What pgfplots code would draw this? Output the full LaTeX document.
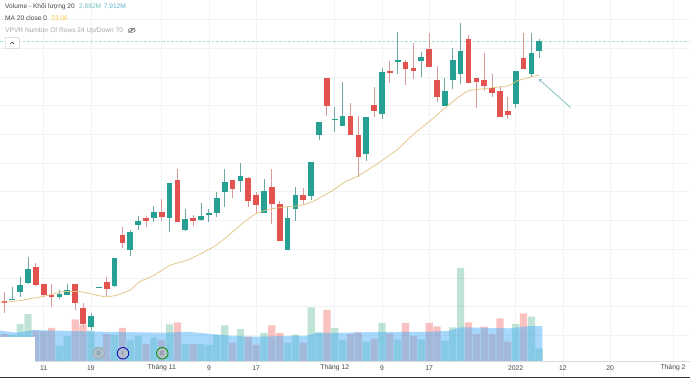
\documentclass[border=0pt]{standalone}
\usepackage{fontspec}
\setmainfont{Liberation Sans}
\usepackage{pgfplots}
\usepackage{pgfplotstable}
\pgfplotsset{compat=1.18}
\definecolor{gbody}{HTML}{26A092}
\definecolor{rbody}{HTML}{E2534F}
\definecolor{gwick}{HTML}{6FA8A4}
\definecolor{rwick}{HTML}{D89A98}
\definecolor{gvol}{HTML}{2AA574}
\definecolor{rvol}{HTML}{EF5350}
\definecolor{volma}{HTML}{4FB0F5}
\definecolor{gridc}{HTML}{F0F3F5}
\definecolor{txt}{HTML}{444444}
\definecolor{maline}{HTML}{E2C482}
\definecolor{arrowc}{HTML}{7DB8C0}
\definecolor{dashc}{HTML}{A8DAD2}
% k high bodytop bodybottom low volume(M)
\pgfplotstableread{
k h t b l v
1 15.69 15.27 15.24 15.24 5.88
2 16.04 15.76 15.52 15.32 8.36
3 16.72 16.31 15.81 15.79 10.62
7 15.58 15.44 15.34 15.26 3.46
8 15.79 15.58 15.40 15.39 5.65
11 14.79 14.68 14.28 14.18 6.85
12 15.69 15.69 15.66 15.66 3.16
14 16.69 16.68 15.72 15.67 5.88
16 17.67 17.59 16.98 16.77 4.75
17 18.16 17.98 17.83 17.67 5.65
19 18.51 18.29 18.08 17.94 5.36
21 19.30 19.30 18.08 17.59 8.29
23 18.39 18.04 17.67 17.63 3.84
25 18.60 18.16 18.03 17.98 3.84
26 18.40 18.25 18.19 17.96 3.62
27 18.98 18.79 18.27 18.13 5.88
28 19.79 19.34 18.98 18.48 8.07
30 20.01 19.55 19.39 18.98 7.23
33 19.45 19.04 18.27 18.27 6.33
36 18.48 18.09 16.98 16.98 4.14
37 19.18 18.89 18.39 17.98 5.94
39 20.04 20.03 18.86 18.71 12.14
40 21.44 21.44 20.99 20.80 6.49
42 21.94 21.55 21.50 21.09 7.46
43 22.82 21.64 21.29 21.29 4.75
46 21.60 21.60 20.31 20.08 4.36
48 23.30 23.16 21.70 21.53 8.59
50 24.56 23.60 23.51 23.10 4.81
53 23.86 23.71 23.56 22.99 4.90
56 22.98 22.50 21.99 21.99 4.59
57 24.02 23.59 22.90 22.57 7.62
58 24.87 23.91 23.10 22.75 21.02
65 23.21 23.21 22.06 21.91 8.36
67 24.52 23.83 23.10 22.99 10.01
68 24.31 24.25 23.91 23.65 2.88
}\greentable
\pgfplotstableread{
k h t b l v
0 15.52 15.20 15.12 14.78 6.10
4 16.52 16.39 15.75 15.72 6.85
5 15.79 15.78 15.40 15.33 6.71
6 15.78 15.40 15.34 15.00 7.46
9 15.78 15.78 15.14 14.88 9.42
10 15.14 14.94 14.39 14.29 8.14
13 16.04 15.87 15.61 15.37 6.10
15 17.78 17.49 17.23 17.03 7.46
18 18.17 18.09 17.97 17.78 3.84
20 18.75 18.30 18.13 17.98 4.75
22 19.79 19.40 17.94 17.94 8.75
24 18.19 18.09 17.97 17.82 3.84
29 19.41 19.40 19.09 18.77 4.14
31 19.50 19.49 18.68 18.48 5.49
32 18.98 18.89 18.54 18.25 3.62
34 19.79 19.18 18.58 17.88 8.07
35 18.69 18.58 17.29 17.29 6.33
38 19.14 18.89 18.71 18.58 4.14
41 22.97 22.97 21.99 21.65 11.53
44 22.10 21.64 20.99 20.99 6.10
45 21.64 20.99 20.20 19.53 6.49
47 22.66 22.01 21.80 21.60 5.04
49 23.57 23.22 23.15 22.80 6.26
51 23.59 23.51 23.29 22.71 8.59
52 24.17 23.30 23.20 22.92 5.65
54 24.52 23.97 23.35 23.35 8.59
55 23.39 22.91 22.30 22.12 7.84
59 24.46 24.31 22.80 22.80 8.75
60 22.98 22.98 22.84 21.91 6.10
61 23.83 22.91 22.69 22.51 7.75
62 23.10 22.62 22.44 22.31 6.10
63 22.69 22.50 21.60 21.60 9.65
64 22.31 21.82 21.69 21.54 4.36
66 24.52 23.66 23.29 23.27 10.78
}\redtable
\pgfplotsset{
  base/.style={width=690pt,height=378pt,scale only axis,at={(0pt,0pt)},anchor=south west,
    xmin=-0.559,xmax=87.16,axis line style={draw=none},tick style={draw=none},
    yticklabels={},xticklabels={}},
  wicks/.style={draw=none,mark=none,forget plot,error bars/.cd,y dir=minus,y explicit,
    error mark=none,error bar style={draw,solid,line width=.85pt,color=#1}},
  bodies/.style={draw=none,mark=none,forget plot,error bars/.cd,y dir=minus,y explicit,
    error mark=none,error bar style={draw,solid,line width=5.7pt,color=#1}},
}
\begin{document}
\begin{tikzpicture}[x=1pt,y=1pt]
\path[use as bounding box] (0,0) rectangle (690,378);
% grid, ticks
\begin{axis}[base,ymin=12.512,ymax=25.683,
  xtick={5,11,20,26,32,42,48,54,65,71,77,85},
  xticklabels={11,19,Tháng 11,9,17,Tháng 12,9,17,2022,12,20,Tháng 2},
  xticklabel style={anchor=center,yshift=10pt,font=\fontsize{6.8}{8}\selectfont,text=txt},
  ytick={14,15,16,17,18,19,20,21,22,23,24,25},
  xmajorgrids,ymajorgrids,grid style={color=gridc,line width=.7pt}]
\addplot[draw=none,forget plot] coordinates {(0,20)};
\end{axis}
% volume
\begin{axis}[base,ymin=-3.842,ymax=81.586,ytick=\empty,xtick=\empty]
\addplot[ybar,bar shift=0pt,bar width=7.2pt,fill=gvol,fill opacity=.3,draw=none,forget plot] table[x=k,y=v] {\greentable};
\addplot[ybar,bar shift=0pt,bar width=7.2pt,fill=rvol,fill opacity=.36,draw=none,forget plot] table[x=k,y=v] {\redtable};
\addplot[fill=volma,fill opacity=.5,draw=none,forget plot] coordinates {
(-0.56,0)(-0.56,6.85)(1.6,6.40)(3.7,7.00)(12.2,6.62)(20.6,6.40)(23.2,6.62)(28.7,5.72)(31.2,5.49)
(38.4,5.72)(39.7,6.40)(41.4,6.33)(45.2,6.49)(54.1,6.62)(56.6,6.85)(58,7.62)(62.1,7.46)(64.3,7.39)
(66.8,7.91)(68.4,7.91)(68.4,0)};
\end{axis}
% bottom-left box, base line, bottom edge
\fill[white] (0,0) rectangle (35,41);
\draw[color=black!14,line width=.6pt] (35,16.5) -- (690,16.5);
\fill[black!80] (0,0) rectangle (690,1);
% dashed level
\draw[color=dashc,line width=.7pt,dash pattern=on 2.5pt off 2pt] (0,337) -- (690,337);
% candles
\begin{axis}[base,ymin=12.512,ymax=25.683,ytick=\empty,xtick=\empty]
\addplot[wicks=gwick] table[x=k,y=h,y error expr=\thisrow{h}-\thisrow{l}] {\greentable};
\addplot[wicks=rwick] table[x=k,y=h,y error expr=\thisrow{h}-\thisrow{l}] {\redtable};
\addplot[bodies=gbody] table[x=k,y=t,y error expr=\thisrow{t}-\thisrow{b}] {\greentable};
\addplot[bodies=rbody] table[x=k,y=t,y error expr=\thisrow{t}-\thisrow{b}] {\redtable};
\addplot[color=maline,line width=.75pt,mark=none,smooth,tension=.3,forget plot] coordinates {
(-0.56,15.16)(0.3,15.16)(2,15.21)(3.6,15.29)(5.4,15.38)(7.4,15.52)(9.6,15.52)(11.7,15.40)(13,15.34)
(14.3,15.40)(16,15.58)(17.2,15.87)(18.9,16.07)(21,16.43)(23.2,16.62)(24.9,16.83)(27,17.15)(28.4,17.46)
(30.3,17.91)(32.1,18.26)(33.8,18.40)(35.9,18.48)(37.6,18.52)(39.2,18.66)(41.8,19.06)(43.3,19.35)
(45,19.55)(47.8,20.05)(49.9,20.46)(51.9,20.98)(54.1,21.47)(55.7,21.85)(57.6,22.27)(58.9,22.51)
(60.5,22.58)(64,22.69)(65.2,22.87)(66.8,22.99)(68,23.07)};
\end{axis}
% arrow
\draw[color=arrowc,line width=.7pt,->,>=to] (570.7,270.3) -- (539,298.7);
% event circles
\node[circle,draw=black!35,fill=black!25,fill opacity=.6,draw opacity=1,text opacity=1,minimum size=11.5pt,inner sep=0pt,line width=.7pt,font=\fontsize{5.5}{6}\selectfont,text=black!55] at (98.7,24.7) {D};
\node[circle,draw=blue!70!black,fill=black!25,fill opacity=.6,draw opacity=1,text opacity=1,minimum size=11.5pt,inner sep=0pt,line width=.8pt,font=\fontsize{5.5}{6}\selectfont,text=black!60] at (123,24.7) {I};
\node[circle,draw=green!55!black,fill=black!25,fill opacity=.6,draw opacity=1,text opacity=1,minimum size=11.5pt,inner sep=0pt,line width=.8pt,font=\fontsize{5.5}{6}\selectfont,text=black!60] at (162.3,24.7) {E};
% legend texts
\begin{scope}[every node/.style={anchor=west,inner sep=0pt,font=\fontsize{6.6}{8}\selectfont}]
\node[text=txt] at (5,371.3) {Volume - Khối lượng 20};
\node[text=gbody!65] at (79,371.3) {2.882M};
\node[text=cyan!50!teal!75] at (103.7,371.3) {7.912M};
\node[text=txt] at (5,359.5) {MA 20 close 0};
\node[text=orange!60!yellow!75] at (51,359.5) {23.06};
\node[text=black!35] at (5,347.6) {VPVR Number Of Rows 24 Up/Down 70};
\end{scope}
% eye icon
\draw[black!65,line width=.5pt] (131.7,347.7) ellipse (3.6 and 2.1);
\fill[black!65] (131.7,347.7) circle (1);
\draw[black!65,line width=.5pt] (128.5,345.2) -- (135,350.2);
% collapse button
\draw[black!18,fill=white,rounded corners=1pt,line width=.5pt] (5,329.7) rectangle (19.3,340.3);
\draw[black!75,line width=.6pt] (10.3,334) -- (12.2,336) -- (14.1,334);
\end{tikzpicture}
\end{document}
